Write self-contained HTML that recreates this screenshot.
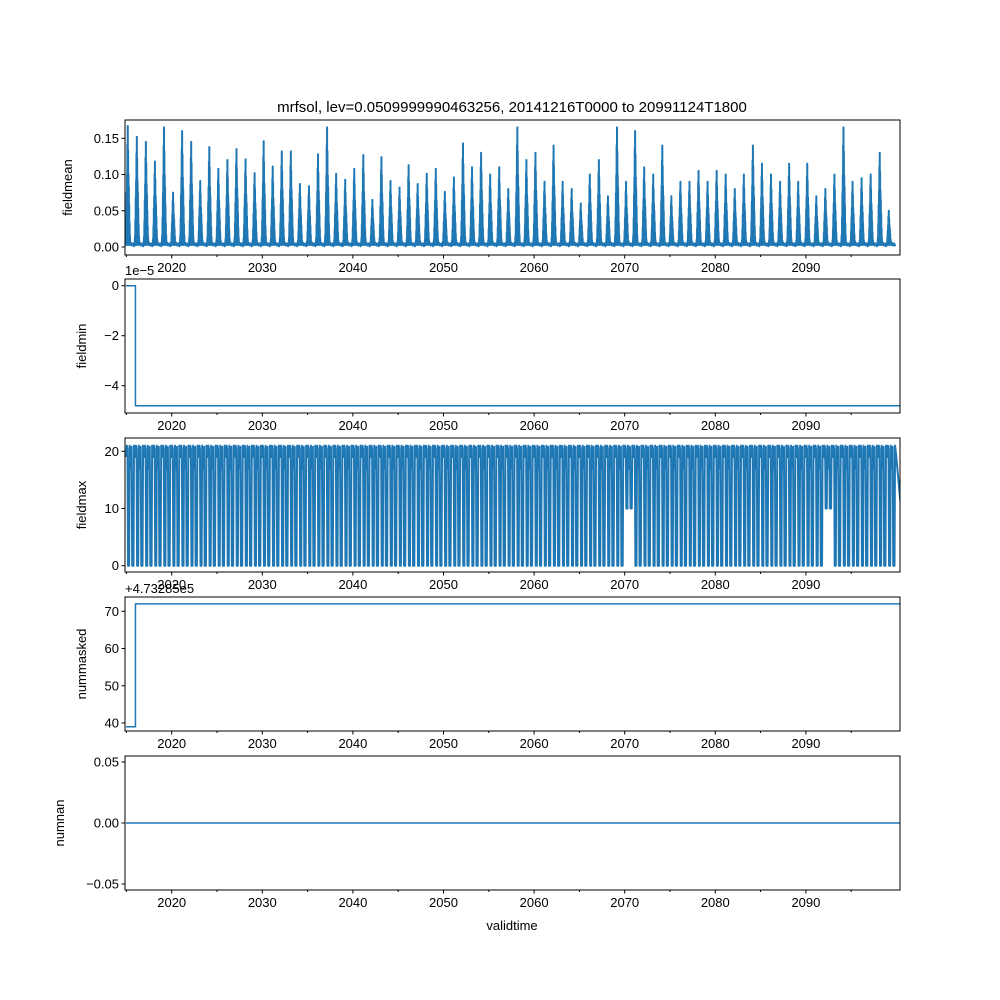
<!DOCTYPE html>
<html><head><meta charset="utf-8"><style>
body{margin:0;background:#fff}
svg{display:block;font-family:"Liberation Sans","DejaVu Sans",sans-serif}
</style></head><body>
<svg id="c" width="1000" height="1000" xmlns="http://www.w3.org/2000/svg">
<rect width="1000" height="1000" fill="#fff"/>
<text x="512" y="112" font-size="15" text-anchor="middle">mrfsol, lev=0.0509999990463256, 20141216T0000 to 20991124T1800</text>
<g id="g"></g>
<text x="512" y="930" font-size="13" text-anchor="middle">validtime</text>
</svg>
<script>
const years = [];for(let y=2015;y<=2099;y++)years.push(y);
const meanPeaks=[.167,.152,.145,.118,.165,.075,.16,.145,.091,.138,.108,.12,.135,.121,.102,.146,.111,.132,.132,.087,.084,.128,.165,.101,.093,.108,.127,.065,.124,.091,.082,.113,.087,.101,.108,.076,.096,.143,.110,.13,.10,.11,.08,.165,.12,.13,.09,.14,.09,.08,.06,.1,.12,.07,.165,.09,.16,.11,.1,.14,.07,.09,.09,.105,.09,.105,.1,.08,.1,.14,.115,.1,.09,.115,.09,.115,.07,.08,.1,.165,.09,.095,.1,.13,.05];
const maxLows=[0,0,0,0,0,0,0,0,0,0,0,0,0,0,0,0,0,0,0,0,0,0,0,0,0,0,0,0,0,0,0,0,0,0,0,0,0,0,0,0,0,0,0,0,0,0,0,0,0,0,0,0,0,0,0,10,0,0,0,0,0,0,0,0,0,0,0,0,0,0,0,0,0,0,0,0,0,10,0,0,0,0,0,0,0];
const minSteps=[[2014.96,0],[2016.0,-4.8],[2100.5,-4.8]];
const maskSteps=[[2014.96,39],[2016.0,72],[2100.5,72]];
const nanVals=[[2014.96,0],[2100.5,0]];
const xTicks=[2020,2030,2040,2050,2060,2070,2080,2090];
const NS='http://www.w3.org/2000/svg';
const g=document.getElementById('g');
const X0=125,X1=900;
const xs=t=>171.7+(t-2020)*9.06;
function el(tag,attrs,parent){const e=document.createElementNS(NS,tag);for(const k in attrs)e.setAttribute(k,attrs[k]);(parent||g).appendChild(e);return e;}
const panels=[
 {name:'fieldmean',top:120,bot:255,v0:0,p0:247,v1:0.15,p1:138.3,ticks:[0,0.05,0.1,0.15],fmt:v=>v.toFixed(2),lx:72},
 {name:'fieldmin',top:279,bot:413,v0:0,p0:285.7,v1:-4,p1:385.7,ticks:[0,-2,-4],fmt:v=>v===0?'0':'\u2212'+(-v),lx:86,off:'1e\u22125'},
 {name:'fieldmax',top:438,bot:572,v0:0,p0:565.7,v1:20,p1:451.3,ticks:[0,10,20],fmt:v=>''+v,lx:86},
 {name:'nummasked',top:597,bot:731,v0:40,p0:723,v1:70,p1:611.3,ticks:[40,50,60,70],fmt:v=>''+v,lx:86,off:'+4.73285e5'},
 {name:'numnan',top:756,bot:890,v0:0,p0:823,v1:0.05,p1:762,ticks:[-0.05,0,0.05],fmt:v=>v<0?'\u2212'+(-v).toFixed(2):v.toFixed(2),lx:64}
];
panels.forEach((p,i)=>{
 const ys=v=>p.p0+(v-p.v0)*(p.p1-p.p0)/(p.v1-p.v0);
 const ax=el('g',{});
 
 
 const clip=el('clipPath',{id:'cl'+i},ax);el('rect',{x:X0,y:p.top,width:X1-X0,height:p.bot-p.top},clip);
 const series=el('g',{'clip-path':'url(#cl'+i+')'},ax);
 
 
 let d='';
 if(i===0){
  const sub=[.1,.25,.45,.6,.85,1,.8,.6,.5,.35,.2,.1];
  meanPeaks.forEach((pk,k)=>{const y0=years[k];
   d+=(k?'L':'M')+xs(y0-0.1)+','+ys(0.002);
   sub.forEach((f,j)=>{const t=y0-0.05+j*0.04;d+='L'+xs(t)+','+ys(pk*f)+'L'+xs(t+0.02)+','+ys(0.003);});
   d+='L'+xs(y0+0.5)+','+ys(0.006)+'L'+xs(y0+0.6)+','+ys(0.002)+'L'+xs(y0+0.75)+','+ys(0.005)+'L'+xs(y0+0.85)+','+ys(0.001);
  });
 } else if(i===2){
  maxLows.forEach((lo,k)=>{const y0=years[k];
   const pts=[[0,19],[0.05,21],[0.12,20.5],[0.18,lo],[0.3,lo],[0.36,21],[0.45,17],[0.5,18.5],[0.58,20.8],[0.64,lo],[0.78,lo],[0.84,21],[0.95,19.5]];
   pts.forEach((q,j)=>{d+=((k||j)?'L':'M')+xs(y0+q[0])+','+ys(q[1]);});
  });
  d+='L'+xs(2100.5)+','+ys(10);
 } else {
  const arr=i===1?minSteps:i===3?maskSteps:nanVals;
  arr.forEach((q,j)=>{if(j===0)d='M'+xs(q[0])+','+ys(q[1]);else d+='L'+xs(q[0])+','+ys(arr[j-1][1])+'L'+xs(q[0])+','+ys(q[1]);});
 }
 const path=el('path',{d:d,fill:'none',stroke:'#1f77b4','stroke-width':(i===0||i===2)?2:1.5,'stroke-linejoin':'round'},series);
 
 
 el('rect',{x:X0,y:p.top,width:X1-X0,height:p.bot-p.top,fill:'none',stroke:'#000','stroke-width':1},ax);
 p.ticks.forEach(v=>{const y=ys(v);el('line',{x1:X0-3.5,x2:X0,y1:y,y2:y,stroke:'#000'},ax);
  const t=el('text',{x:X0-6,y:y+4.5,'font-size':13,'text-anchor':'end'},ax);t.textContent=p.fmt(v);
  
  });
 xTicks.forEach(v=>{const x=xs(v);el('line',{x1:x,x2:x,y1:p.bot,y2:p.bot+3.5,stroke:'#000'},ax);
  const t=el('text',{x:x,y:p.bot+17,'font-size':13,'text-anchor':'middle'},ax);t.textContent=v;
  
  });
 for(let v=2015;v<=2095;v+=10){const x=xs(v);el('line',{x1:x,x2:x,y1:p.bot,y2:p.bot+2,stroke:'#000'},ax);}
 const yl=el('text',{x:p.lx,y:(p.top+p.bot)/2,'font-size':13,'text-anchor':'middle',transform:'rotate(-90 '+p.lx+' '+(p.top+p.bot)/2+')'},ax);
 yl.textContent=p.name;
 
 
 if(p.off){const o=el('text',{x:125,y:p.top-4,'font-size':13},ax);o.textContent=p.off;
  
  }
});
</script>
</body></html>
